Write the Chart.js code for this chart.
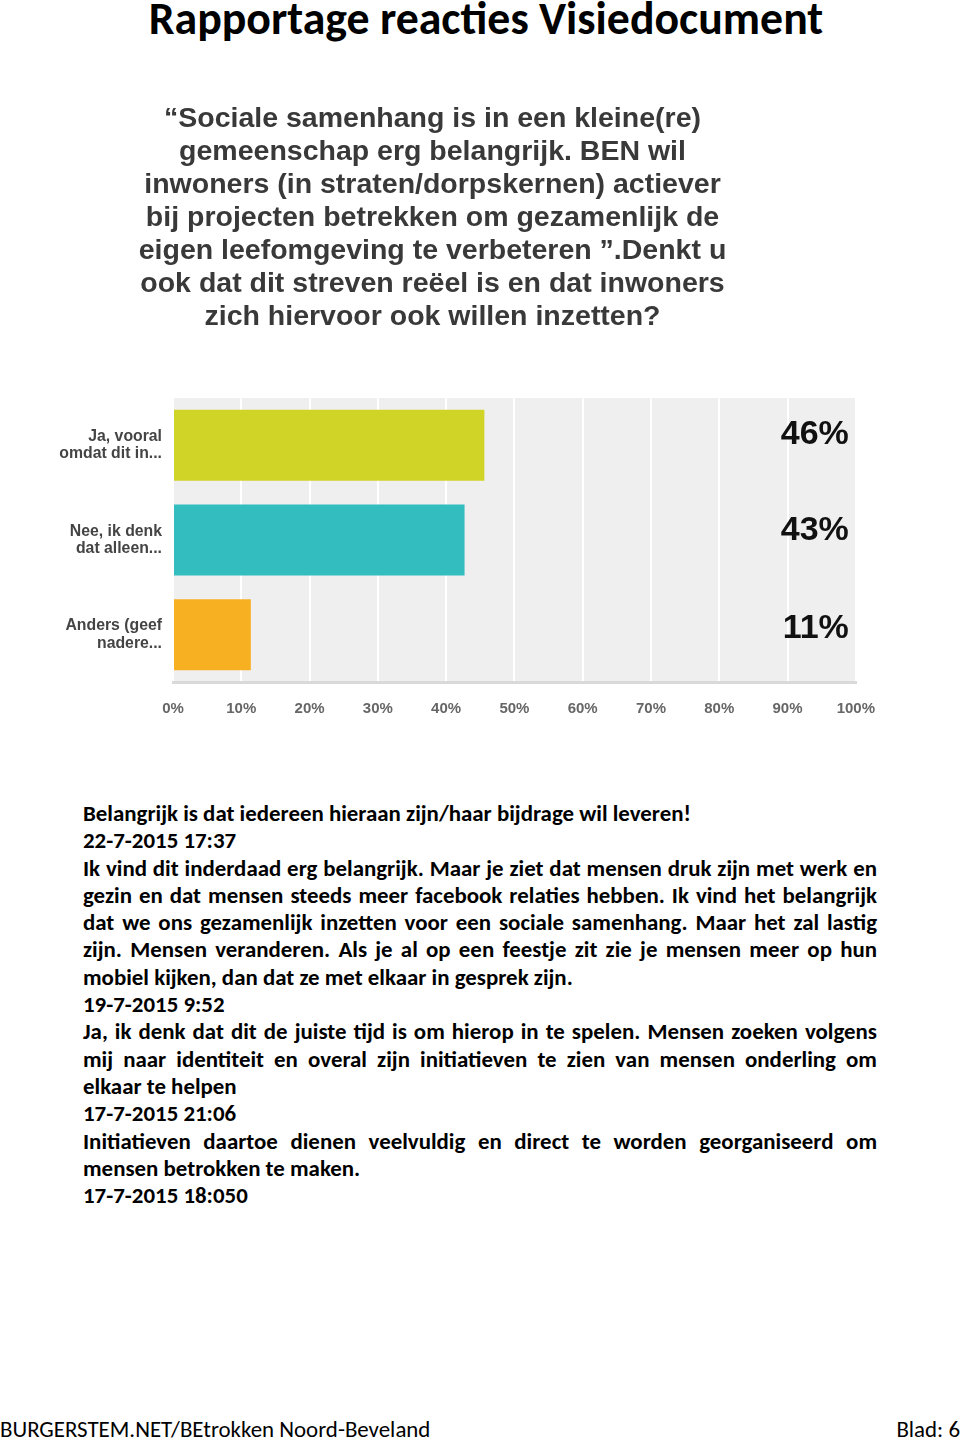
<!DOCTYPE html>
<html>
<head>
<meta charset="utf-8">
<script src="https://cdn.jsdelivr.net/npm/chart.js@4"></script>
<style>
  body { margin: 0; width: 960px; height: 1442px; position: relative; background: #fff; overflow: hidden; }
  #title { position: absolute; top: -10px; left: 6px; width: 960px; text-align: center; font-family: Carlito, Lato, sans-serif; font-weight: bold; font-size: 45.8px; color: #000; }
  #chartBox { position: absolute; left: -19px; top: 95px; width: 912px; height: 651px; }
  #body { position: absolute; left: 83px; top: 800px; width: 794px; font-family: Carlito, Lato, sans-serif; font-weight: bold; font-size: 22.9px; line-height: 27.3px; color: #000; }
  #body div { white-space: nowrap; }
  #body .j { text-align: justify; text-align-last: justify; }
  .foot { position: absolute; top: 1415px; font-family: Carlito, Lato, sans-serif; font-size: 22.9px; color: #000; }
</style>
</head>
<body>
<div id="title">Rapportage reacties Visiedocument</div>
<div id="chartBox"><canvas id="surveyChart"></canvas></div>
<div id="body">
  <div>Belangrijk is dat iedereen hieraan zijn/haar bijdrage wil leveren!</div>
  <div>22-7-2015 17:37</div>
  <div class="j">Ik vind dit inderdaad erg belangrijk. Maar je ziet dat mensen druk zijn met werk en</div>
  <div class="j">gezin en dat mensen steeds meer facebook relaties hebben. Ik vind het belangrijk</div>
  <div class="j">dat we ons gezamenlijk inzetten voor een sociale samenhang. Maar het zal lastig</div>
  <div class="j">zijn. Mensen veranderen. Als je al op een feestje zit zie je mensen meer op hun</div>
  <div>mobiel kijken, dan dat ze met elkaar in gesprek zijn.</div>
  <div>19-7-2015 9:52</div>
  <div class="j">Ja, ik denk dat dit de juiste tijd is om hierop in te spelen. Mensen zoeken volgens</div>
  <div class="j">mij naar identiteit en overal zijn initiatieven te zien van mensen onderling om</div>
  <div>elkaar te helpen</div>
  <div>17-7-2015 21:06</div>
  <div class="j">Initiatieven daartoe dienen veelvuldig en direct te worden georganiseerd om</div>
  <div>mensen betrokken te maken.</div>
  <div>17-7-2015 18:050</div>
</div>
<div class="foot" style="left:0">BURGERSTEM.NET/BEtrokken Noord-Beveland</div>
<div class="foot" style="right:0">Blad: 6</div>

<script>
// Survey answers (labels are truncated like in the original)
const answers = [
    ["Ja, vooral", "omdat dit in..."],
    ["Nee, ik denk", "dat alleen..."],
    ["Anders (geef", "nadere..."]
];
const percentages = [45.6, 42.7, 11.4];
const shownValues = ["46%", "43%", "11%"];
const barColors = ["#d0d427", "#33bdbf", "#f6b021"];
const xTicks = [0, 10, 20, 30, 40, 50, 60, 70, 80, 90, 100];

const questionLines = [
    "\u201cSociale samenhang is in een kleine(re)",
    "gemeenschap erg belangrijk. BEN wil",
    "inwoners (in straten/dorpskernen) actiever",
    "bij projecten betrekken om gezamenlijk de",
    "eigen leefomgeving te verbeteren \u201d.Denkt u",
    "ook dat dit streven re\u00ebel is en dat inwoners",
    "zich hiervoor ook willen inzetten?"
];

// grey plot background + big value labels on the right
const plotExtras = {
    id: "plotExtras",
    beforeDraw(chart) {
        const a = chart.chartArea;
        const c = chart.ctx;
        c.save();
        c.fillStyle = "#efefef";
        c.fillRect(a.left, a.top, a.right - a.left, a.bottom - a.top);
        c.restore();
    },
    afterDatasetsDraw(chart) {
        const c = chart.ctx;
        const meta = chart.getDatasetMeta(0);
        const shift = [-11, -9, -6];
        c.save();
        c.font = "bold 34px Arial, 'Liberation Sans', sans-serif";
        c.fillStyle = "#111";
        c.textAlign = "right";
        c.textBaseline = "middle";
        meta.data.forEach(function (bar, i) {
            c.fillText(shownValues[i], chart.chartArea.right - 7, bar.y + shift[i]);
        });
        c.restore();
    }
};

var ctx = document.getElementById("surveyChart").getContext("2d");
new Chart(ctx, {
    type: "bar",
    data: {
        labels: answers,
        datasets: [{
            data: percentages,
            backgroundColor: barColors,
            borderWidth: 0,
            barPercentage: 0.75,
            categoryPercentage: 1
        }]
    },
    options: {
        indexAxis: "y",
        responsive: true,
        maintainAspectRatio: false,
        animation: false,
        layout: { padding: { right: 9, bottom: 10 } },
        plugins: {
            legend: { display: false },
            tooltip: { enabled: false },
            title: {
                display: true,
                text: questionLines,
                color: "#393939",
                font: { family: "Arial, 'Liberation Sans', sans-serif", size: 28.5, weight: "bold", lineHeight: 1.158 },
                padding: { top: 8, bottom: 64 }
            }
        },
        scales: {
            x: {
                min: 0,
                max: 100,
                afterBuildTicks: function (axis) {
                    axis.ticks = xTicks.map(function (v) { return { value: v }; });
                },
                ticks: {
                    callback: function (v) { return v + "%"; },
                    color: "#666",
                    font: { family: "Arial, 'Liberation Sans', sans-serif", size: 15, weight: "bold" },
                    padding: 18,
                    maxRotation: 0
                },
                grid: { color: "#ffffff", lineWidth: 2, drawTicks: false },
                border: { color: "#d9d9d9", width: 3 }
            },
            y: {
                afterFit: function (axis) { axis.width = 192; },
                ticks: {
                    color: "#444",
                    font: { family: "Arial, 'Liberation Sans', sans-serif", size: 15.8, weight: "bold", lineHeight: 1.1 },
                    padding: 11
                },
                grid: { display: false, drawTicks: false },
                border: { display: false }
            }
        }
    },
    plugins: [plotExtras]
});
</script>
</body>
</html>
